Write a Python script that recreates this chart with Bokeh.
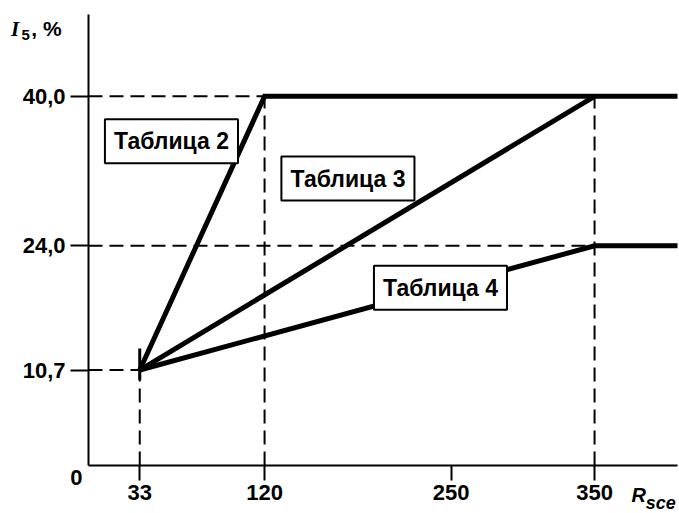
from bokeh.plotting import figure
from bokeh.models import Range1d, FixedTicker, Label, CustomJSTickFormatter
from bokeh.embed import file_html
from bokeh.resources import INLINE

# ---- data ----
x_ticks = [33, 120, 250, 350]
y_ticks = [10.7, 24.0, 40.0]

# visible extent of the axes (data units)
x_axis_from, x_axis_to = -2.72, 407.8
y_axis_from, y_axis_to = 0.48, 48.76

t2_x = [33, 120, x_axis_to]
t2_y = [10.7, 40.0, 40.0]
t3_x = [33, 350]
t3_y = [10.7, 40.0]
t4_x = [33, 350, x_axis_to]
t4_y = [10.7, 24.0, 24.0]

# guide points where dashed lines run to the axes
guide_x = [33, 120, 350]
guide_y = [10.7, 40.0, 24.0]
guide_top = [10.7, 40.0, 40.0]

# short solid mark at the common start point
mark_x = [33, 33]
mark_y = [9.6, 13.0]

table_names = ["Таблица 2", "Таблица 3", "Таблица 4"]
table_x = [55.1, 178.1, 242.6]
table_y = [35.2, 31.2, 19.5]

FONT = "Liberation Sans"

p = figure(width=679, height=513, output_backend="svg", toolbar_location=None,
           x_range=Range1d(-64.05, 409.2), y_range=Range1d(-4.66, 50.26),
           min_border_left=0, min_border_right=0, min_border_top=0, min_border_bottom=0)
p.outline_line_color = None
p.grid.visible = False
p.background_fill_color = "white"
p.border_fill_color = "white"

# axes, fixed at the origin and bounded like the reference
for ax in (p.xaxis[0], p.yaxis[0]):
    ax.axis_line_width = 2
    ax.major_tick_line_width = 2
    ax.major_tick_in = 0
    ax.minor_tick_line_color = None
    ax.major_label_text_font = FONT
    ax.major_label_text_font_size = "22px"
    ax.major_label_text_font_style = "bold"
    ax.major_label_text_color = "black"
p.xaxis.fixed_location = y_axis_from
p.xaxis.bounds = (x_axis_from, x_axis_to)
p.xaxis.ticker = FixedTicker(ticks=x_ticks)
p.xaxis.major_tick_out = 15
p.xaxis.major_label_standoff = 5
p.yaxis.fixed_location = x_axis_from
p.yaxis.bounds = (y_axis_from, y_axis_to)
p.yaxis.ticker = FixedTicker(ticks=y_ticks)
p.yaxis.major_tick_out = 18
p.yaxis.major_label_standoff = 5
p.yaxis.formatter = CustomJSTickFormatter(code="return tick.toFixed(1).replace('.', ',')")

# dashed guides
p.segment(x0=[x_axis_from] * len(guide_x), y0=guide_y, x1=guide_x, y1=guide_y,
          line_color="black", line_width=2, line_dash="14 7")
p.segment(x0=guide_x, y0=[y_axis_from] * len(guide_x), x1=guide_x, y1=guide_top,
          line_color="black", line_width=2, line_dash="14 7")
p.line(mark_x, mark_y, line_color="black", line_width=3)

# main lines
for xs, ys in ((t2_x, t2_y), (t3_x, t3_y), (t4_x, t4_y)):
    p.line(xs, ys, line_color="black", line_width=5, line_join="miter")

# table labels
for name, tx, ty in zip(table_names, table_x, table_y):
    p.add_layout(Label(x=tx, y=ty, text=name, text_align="center", text_baseline="middle",
                       text_font=FONT, text_font_size="23px", text_font_style="bold",
                       text_color="black", border_line_color="black", border_line_width=2,
                       background_fill_color="white", padding=9))

# axis titles and origin label (positioned by their vertical middle)
def note(x, y, text, font=FONT, style="bold", size="21px", align="left"):
    p.add_layout(Label(x=x, y=y, text=text, text_font=font, text_font_style=style,
                       text_font_size=size, text_align=align, text_baseline="middle",
                       text_color="black"))

note(-56.8, 47.26, "I", font="Liberation Serif", style="bold italic", size="21px")
note(-49.4, 46.55, "5", size="15px")
note(-42.6, 47.26, ", %", size="21px")
note(-11.2, -0.80, "0", size="22px", align="center")
note(375.7, -2.73, "R", style="bold italic", size="20px")
note(385.6, -3.55, "sce", style="bold italic", size="18px")

open("out.html", "w").write(file_html(p, INLINE))
